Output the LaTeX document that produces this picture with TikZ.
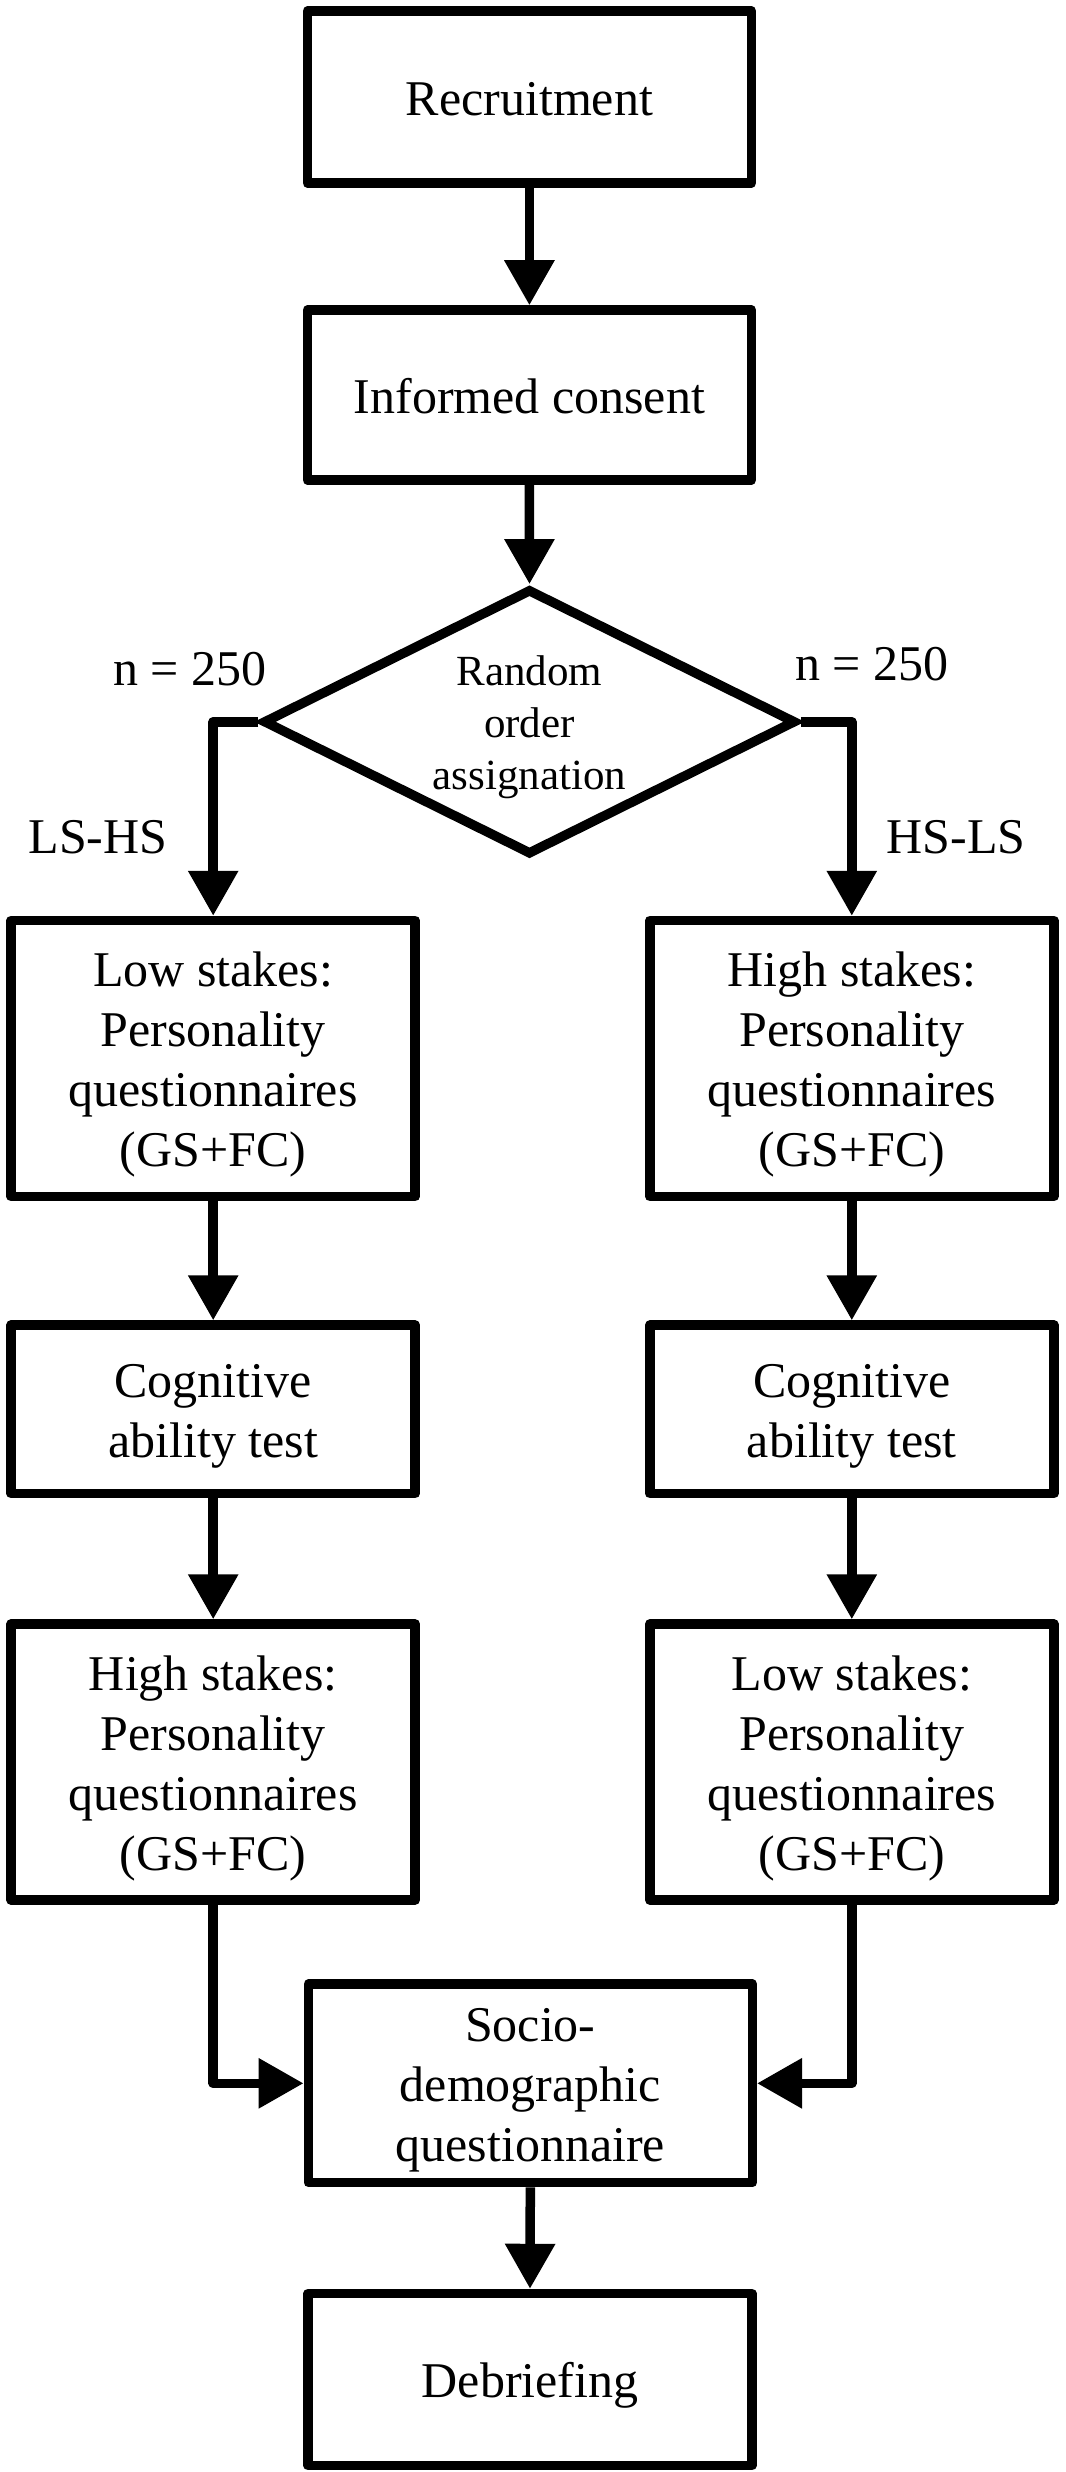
\documentclass[tikz,border=0pt]{standalone}
\usepackage{fontspec}
\setmainfont{Liberation Serif}
\usetikzlibrary{arrows.meta,shapes.geometric}
\newcommand{\fstrut}{\rule[-11pt]{0pt}{58pt}}
\newcommand{\dstrut}{\rule{0pt}{41pt}}
\begin{document}
\begin{tikzpicture}[x=1pt,y=-1pt,
  box/.style={draw, line width=9.5pt, line join=round, inner sep=0pt,
    align=center, font=\fontsize{50}{60}\selectfont},
  wide/.style={box, minimum width=444pt},
  narrow/.style={box, minimum width=404pt},
  decision/.style={diamond, draw, line width=9.5pt, line join=miter, inner sep=0pt,
    shape aspect=2, minimum width=533pt, minimum height=266pt, align=center,
    font=\fontsize{43}{52}\selectfont},
  lbl/.style={anchor=base, inner sep=0pt, font=\fontsize{50}{60}\selectfont},
  conn/.style={line width=9.5pt, line join=round, -{Triangle[length=45pt,width=48pt]}}
]
\path[fill=white] (0,0) rectangle (1065,2472);
\useasboundingbox (0,0) rectangle (1065,2472);

\node[wide, minimum height=172pt] (rec) at (529.4,97.1) {\fstrut Recruitment};
\node[wide, minimum height=170pt] (ic) at (529.4,395) {\fstrut Informed consent};
\node[decision] (rand) at (529.5,721.8) {\dstrut Random\\order\\assignation};

\node[narrow, minimum height=276pt] (ls1) at (213.2,1058.5) {\fstrut Low stakes:\\Personality\\questionnaires\\(GS+FC)};
\node[narrow, minimum height=276pt] (hs1) at (851.8,1058.5) {\fstrut High stakes:\\Personality\\questionnaires\\(GS+FC)};
\node[narrow, minimum height=168.5pt] (cog1) at (213.2,1409.3) {\fstrut Cognitive\\ability test};
\node[narrow, minimum height=168.5pt] (cog2) at (851.8,1409.3) {\fstrut Cognitive\\ability test};
\node[narrow, minimum height=276pt] (hs2) at (213.2,1762) {\fstrut High stakes:\\Personality\\questionnaires\\(GS+FC)};
\node[narrow, minimum height=276pt] (ls2) at (851.8,1762) {\fstrut Low stakes:\\Personality\\questionnaires\\(GS+FC)};
\node[wide, minimum height=198.5pt] (soc) at (530.3,2083.3) {\fstrut Socio-\\demographic\\questionnaire};
\node[wide, minimum height=172pt] (deb) at (530,2379.5) {\fstrut Debriefing};

\node[lbl] (nl) at (190,685) {n = 250};
\node[lbl] (nr) at (872,680) {n = 250};
\node[lbl] (lshs) at (98,853.6) {LS-HS};
\node[lbl] (hsls) at (956,853.6) {HS-LS};

\draw[conn] (rec.south) -- (ic.north);
\draw[conn] (ic.south) -- (rand.north);
\draw[conn] (rand.west) -| (ls1.north);
\draw[conn] (rand.east) -| (hs1.north);
\draw[conn] (ls1.south) -- (cog1.north);
\draw[conn] (cog1.south) -- (hs2.north);
\draw[conn] (hs1.south) -- (cog2.north);
\draw[conn] (cog2.south) -- (ls2.north);
\draw[conn] (hs2.south) |- (soc.west);
\draw[conn] (ls2.south) |- (soc.east);
\draw[conn] (soc.south) -- (deb.north);
\end{tikzpicture}
\end{document}
